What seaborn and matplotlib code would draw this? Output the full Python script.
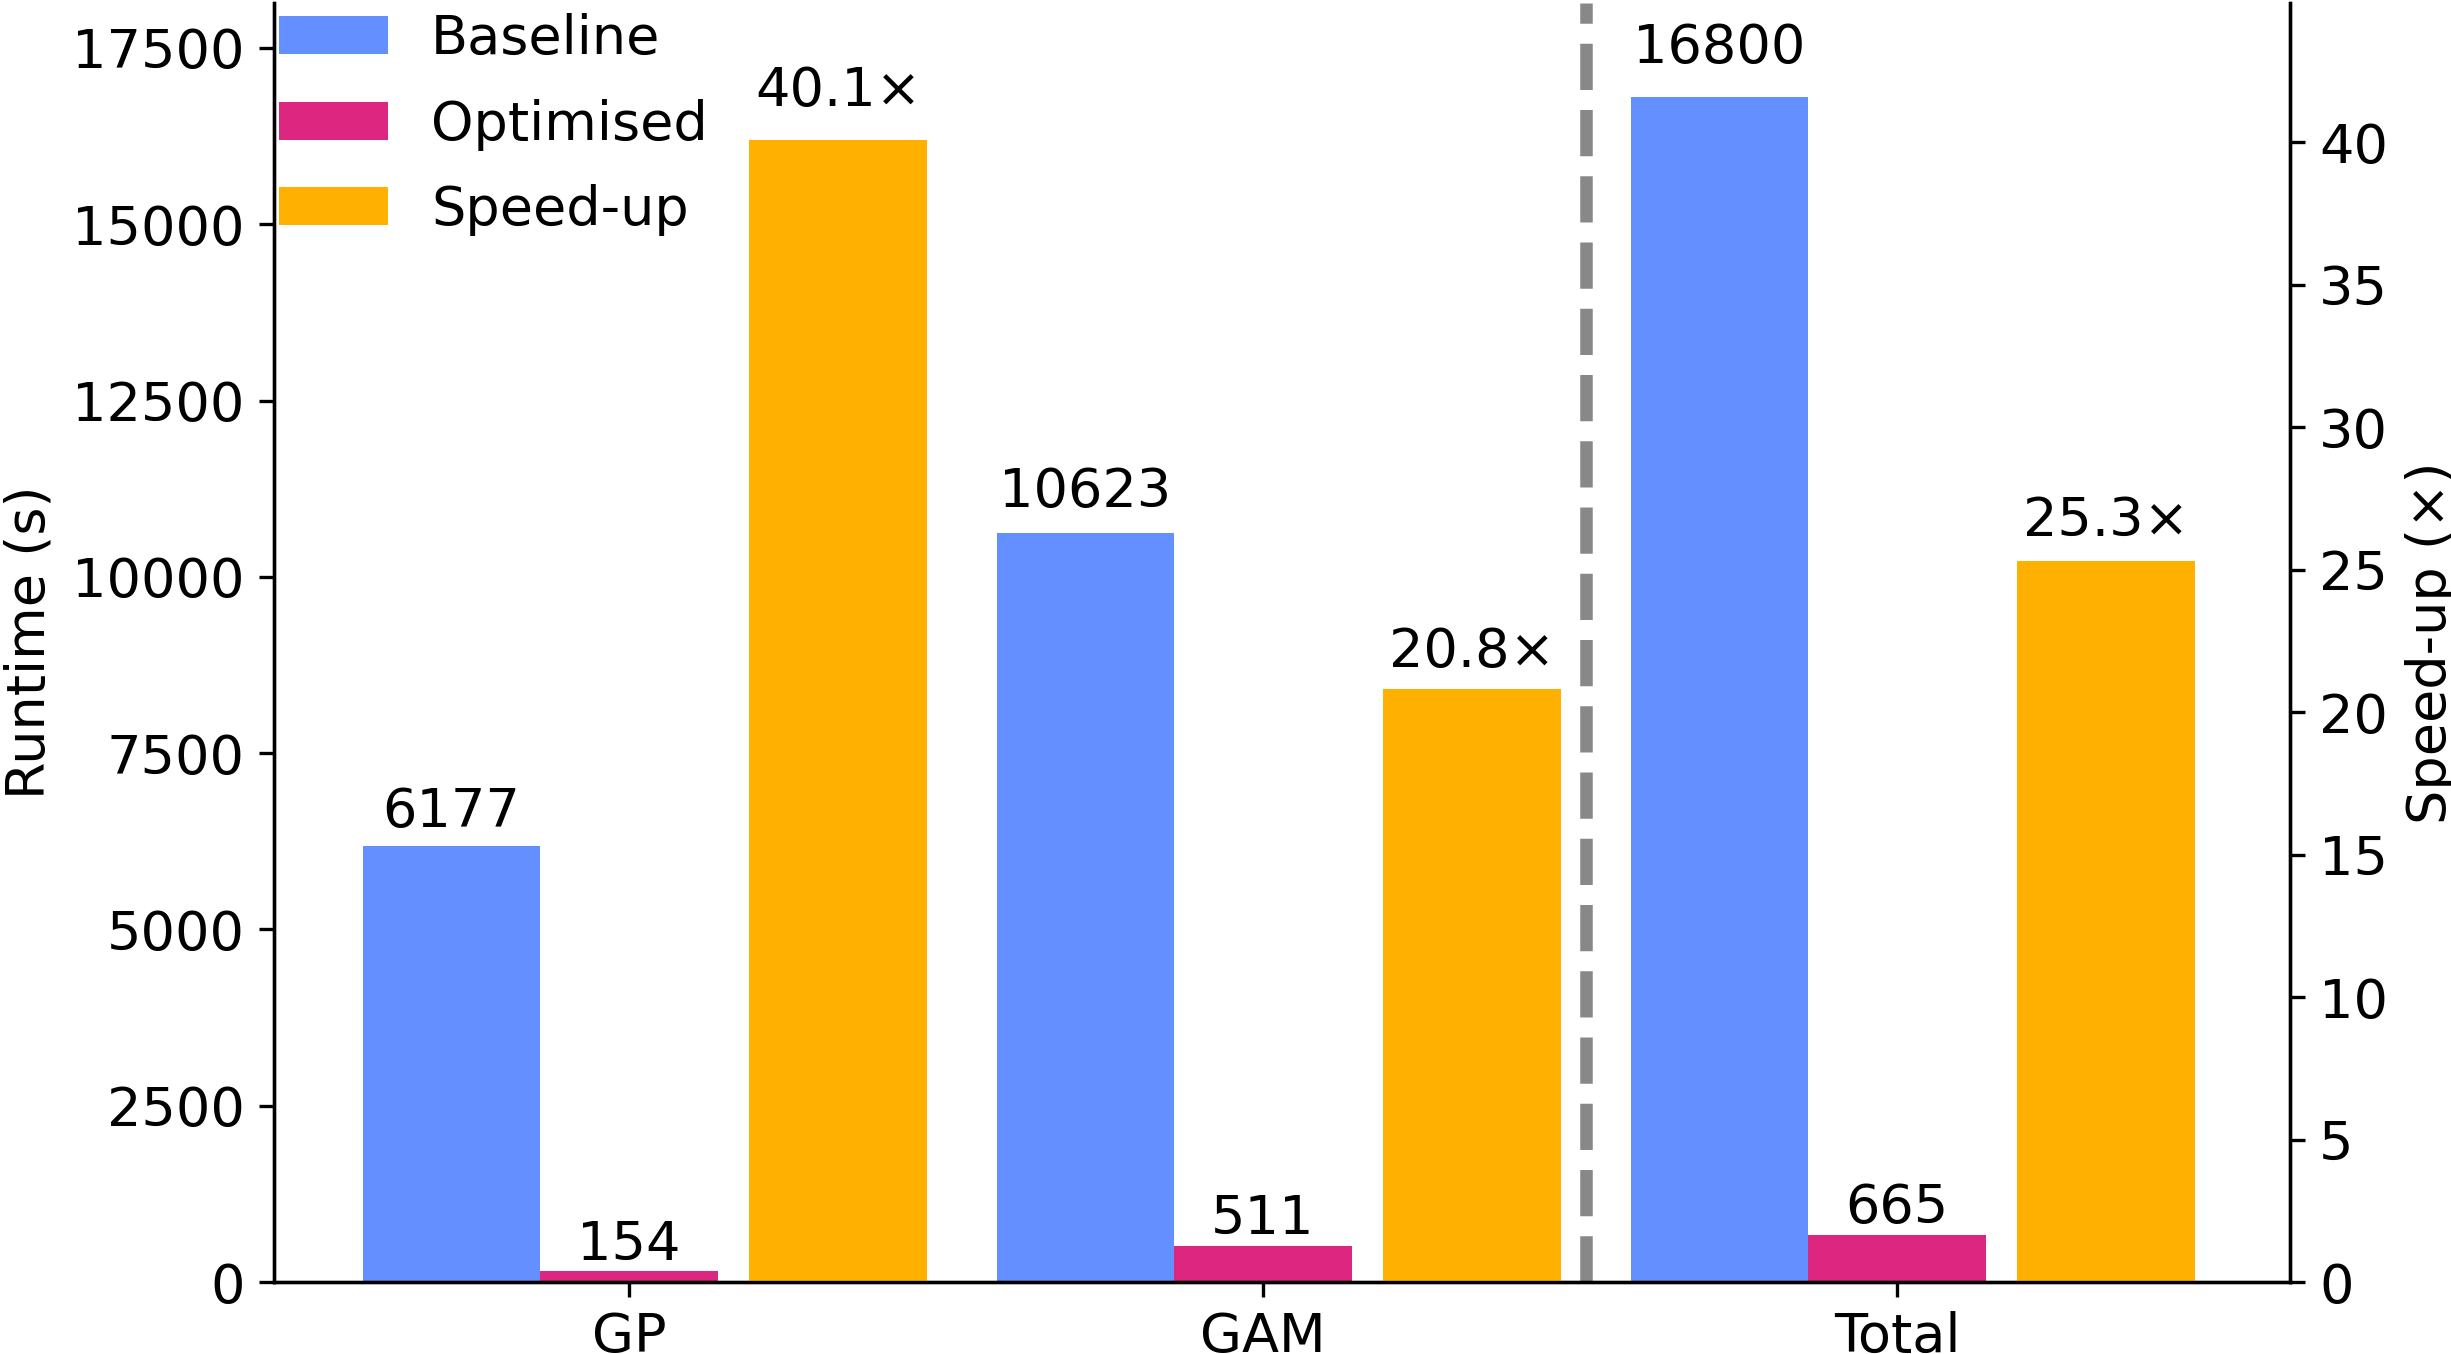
#!/usr/bin/python env
"""plot.py

Runtime of the baseline and optimised pipelines, with the speed-up on a
second axis.

"""

import numpy as np
import matplotlib
matplotlib.use("Agg")
import matplotlib.pyplot as plt
import seaborn as sns

GROUPS = ["GP", "GAM", "Total"]
BASELINE = [6177, 10623, 16800]
OPTIMISED = [154, 511, 665]
SPEEDUP = [40.1, 20.8, 25.3]

SERIES = ["Baseline", "Optimised", "Speed-up"]
COLOURS = ["#648FFF", "#DC267F", "#FFB000"]

WIDTH = 0.28
GAP = 0.05
FONT = 13


def run():
    """Build the figure and save it.

    """
    sns.set_style("ticks")
    plt.rcParams["font.family"] = ["DejaVu Sans"]
    plt.rcParams["font.size"] = FONT
    plt.rcParams["axes.labelsize"] = FONT
    plt.rcParams["xtick.labelsize"] = FONT
    plt.rcParams["ytick.labelsize"] = FONT
    plt.rcParams["axes.edgecolor"] = "black"
    plt.rcParams["xtick.color"] = "black"
    plt.rcParams["ytick.color"] = "black"
    plt.rcParams["text.color"] = "black"
    plt.rcParams["axes.labelcolor"] = "black"

    fig = plt.figure(figsize=(2451 / 300, 1354 / 300), dpi=300)
    ax = fig.add_axes([274 / 2451, 1 - 1282 / 1354,
                       (2290 - 274) / 2451, (1282 - 2.5) / 1354])
    ax2 = ax.twinx()

    x = np.arange(len(GROUPS))

    # Runtime bars on the left axis
    base_bars = ax.bar(x - WIDTH, BASELINE, WIDTH, linewidth=0,
                       color=COLOURS[0], label=SERIES[0])
    opt_bars = ax.bar(x, OPTIMISED, WIDTH, linewidth=0,
                      color=COLOURS[1], label=SERIES[1])

    # Speed-up bars on the right axis
    speed_bars = ax2.bar(x + WIDTH + GAP, SPEEDUP, WIDTH, linewidth=0,
                         color=COLOURS[2], label=SERIES[2])

    for bars, values in ((base_bars, BASELINE), (opt_bars, OPTIMISED)):
        for bar, value in zip(bars, values):
            ax.text(bar.get_x() + bar.get_width() / 2, value * 1.02,
                    "{:.0f}".format(value), ha="center", va="bottom",
                    fontsize=FONT)
    for bar, value in zip(speed_bars, SPEEDUP):
        ax2.text(bar.get_x() + bar.get_width() / 2, value * 1.02,
                 "{:.1f}×".format(value), ha="center", va="bottom",
                 fontsize=FONT)

    ax.set_xlim(-0.56, 2.62)
    ax.set_ylim(0, max(BASELINE) * 1.08)
    ax2.set_ylim(0, max(SPEEDUP) * 1.12)
    ax.set_yticks(np.arange(0, 17501, 2500))
    ax2.set_yticks(np.arange(0, 41, 5))

    ax.set_xticks(x)
    ax.set_xticklabels(GROUPS)
    ax.set_ylabel("Runtime (s)")
    ax2.set_ylabel("Speed-up (×)")

    # Separator between the single models and the total
    ax.axvline(1.51, color="#888888", linestyle="--", linewidth=3)

    sns.despine(ax=ax, right=False)
    sns.despine(ax=ax2, right=False)

    handles = [base_bars, opt_bars, speed_bars]
    ax2.legend(handles, SERIES, loc="upper left", frameon=False,
               fontsize=FONT, borderaxespad=0, borderpad=0.1,
               labelspacing=0.62, bbox_to_anchor=(0, 0.996))

    fig.savefig("out.png", dpi=300)


if __name__ == "__main__":
    run()
